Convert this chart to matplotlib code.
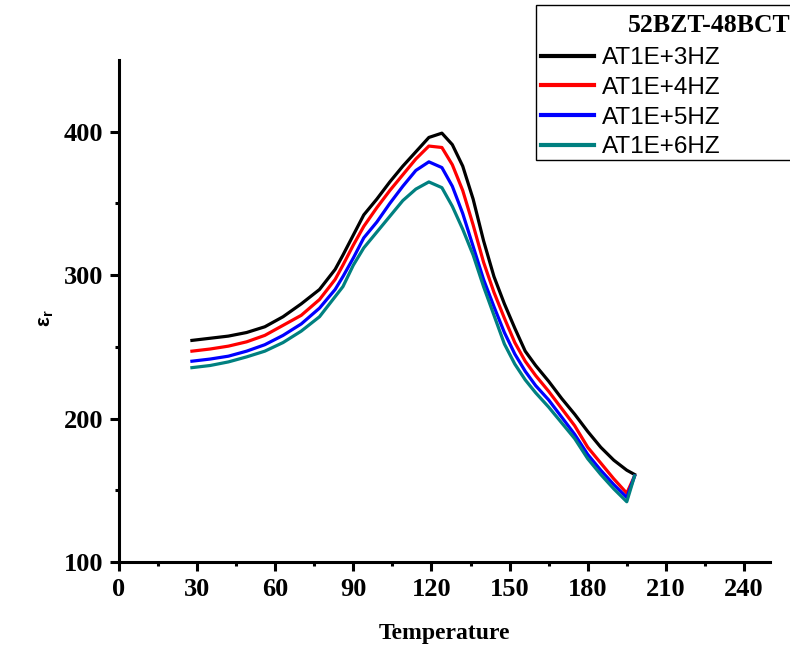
import matplotlib
matplotlib.use('Agg')
import matplotlib.pyplot as plt
from matplotlib.patches import Rectangle

temps = [28, 35, 42, 49, 56, 63, 70, 77, 83, 86, 90, 94, 99, 104, 109, 114, 119, 124,
         128, 132, 136, 140, 144, 148, 152, 156, 160, 165, 170, 175, 180, 185, 190, 195, 198]

eps_1e3 = [254.5, 256, 257.5, 260, 264, 271, 280, 290, 304, 314, 328, 342, 353, 365, 376, 386, 396, 399,
           391, 376, 353, 324, 299, 280, 263, 247, 237, 226, 214, 203, 191, 180, 171, 164, 161]
eps_1e4 = [247, 248.5, 250.5, 253.5, 258, 265, 272, 283, 297, 307, 321, 334, 347, 359, 370, 381, 390, 389,
           377, 359, 335, 309, 288, 270, 253, 240, 230, 219, 207, 195, 180, 169, 158, 148, 160]
eps_1e5 = [240, 241.5, 243.5, 247, 251.5, 258, 266, 277, 290, 299, 312, 326, 337, 350, 362, 373, 379, 375,
           362, 343, 320, 297, 278, 260, 245, 233, 223, 213, 201, 189, 175, 164, 154, 145, 160]
eps_1e6 = [235.5, 237, 239.5, 243, 247, 253, 261, 271, 285, 292, 307, 319, 330, 341, 352, 360, 365, 361,
           348, 332, 314, 292, 272, 252, 238, 227, 218, 208, 197, 186, 172, 161, 151, 142, 160]

labels = ['AT1E+3HZ', 'AT1E+4HZ', 'AT1E+5HZ', 'AT1E+6HZ']
colors = ['black', 'red', 'blue', '#008080']

serif = 'Liberation Serif'
sans = 'Liberation Sans'

W, H = 790, 646
fig = plt.figure(figsize=(W / 100, H / 100), dpi=100)
ax = fig.add_axes([119 / W, 1 - 562 / H, 651 / W, 502 / H])

for series, lab, col in zip([eps_1e3, eps_1e4, eps_1e5, eps_1e6], labels, colors):
    ax.plot(temps, series, color=col, lw=2.3, label=lab)

ax.set_xlim(0, 250)
ax.set_ylim(100, 450)
ax.set_xticks(range(0, 241, 30))
ax.set_xticks(range(15, 250, 30), minor=True)
ax.set_yticks([100, 200, 300, 400])
ax.set_yticks([150, 250, 350], minor=True)

for side in ['top', 'right']:
    ax.spines[side].set_visible(False)
for side in ['left', 'bottom']:
    ax.spines[side].set_linewidth(2.2)

ax.tick_params(which='major', direction='out', length=6.5, width=2.2, pad=5)
ax.tick_params(which='minor', direction='out', length=3, width=2.2)
for t in ax.get_xticklabels() + ax.get_yticklabels():
    t.set_fontfamily(serif)
    t.set_fontweight('bold')
    t.set_fontsize(19)

ax.set_xlabel('Temperature', fontfamily=serif, fontweight='bold', fontsize=17, labelpad=16)
fig.text(46 / W, 1 - 318 / H, 'ε$_\\mathregular{r}$', rotation=90, fontfamily=sans,
         fontweight='bold', fontsize=15, ha='center', va='center')

# legend box (runs off the right edge like the original)
fig.patches.append(Rectangle((536 / W, 1 - 160 / H), 300 / W, 155 / H, transform=fig.transFigure,
                             facecolor='white', edgecolor='black', lw=1.0, zorder=5))
fig.text(628 / W, 1 - 32 / H, '52BZT-48BCT', fontfamily=serif, fontweight='bold',
         fontsize=18.5, ha='left', va='baseline', zorder=6)
leg = fig.legend(loc='upper left', bbox_to_anchor=(541 / W, 1 - 47 / H),
                 prop={'family': sans, 'size': 17.5}, frameon=False, borderpad=0,
                 borderaxespad=0, handlelength=2.2, handletextpad=0.3, labelspacing=0.32)
leg.set_zorder(7)
for line in leg.get_lines():
    line.set_linewidth(3)

fig.savefig('out.png', dpi=100)
